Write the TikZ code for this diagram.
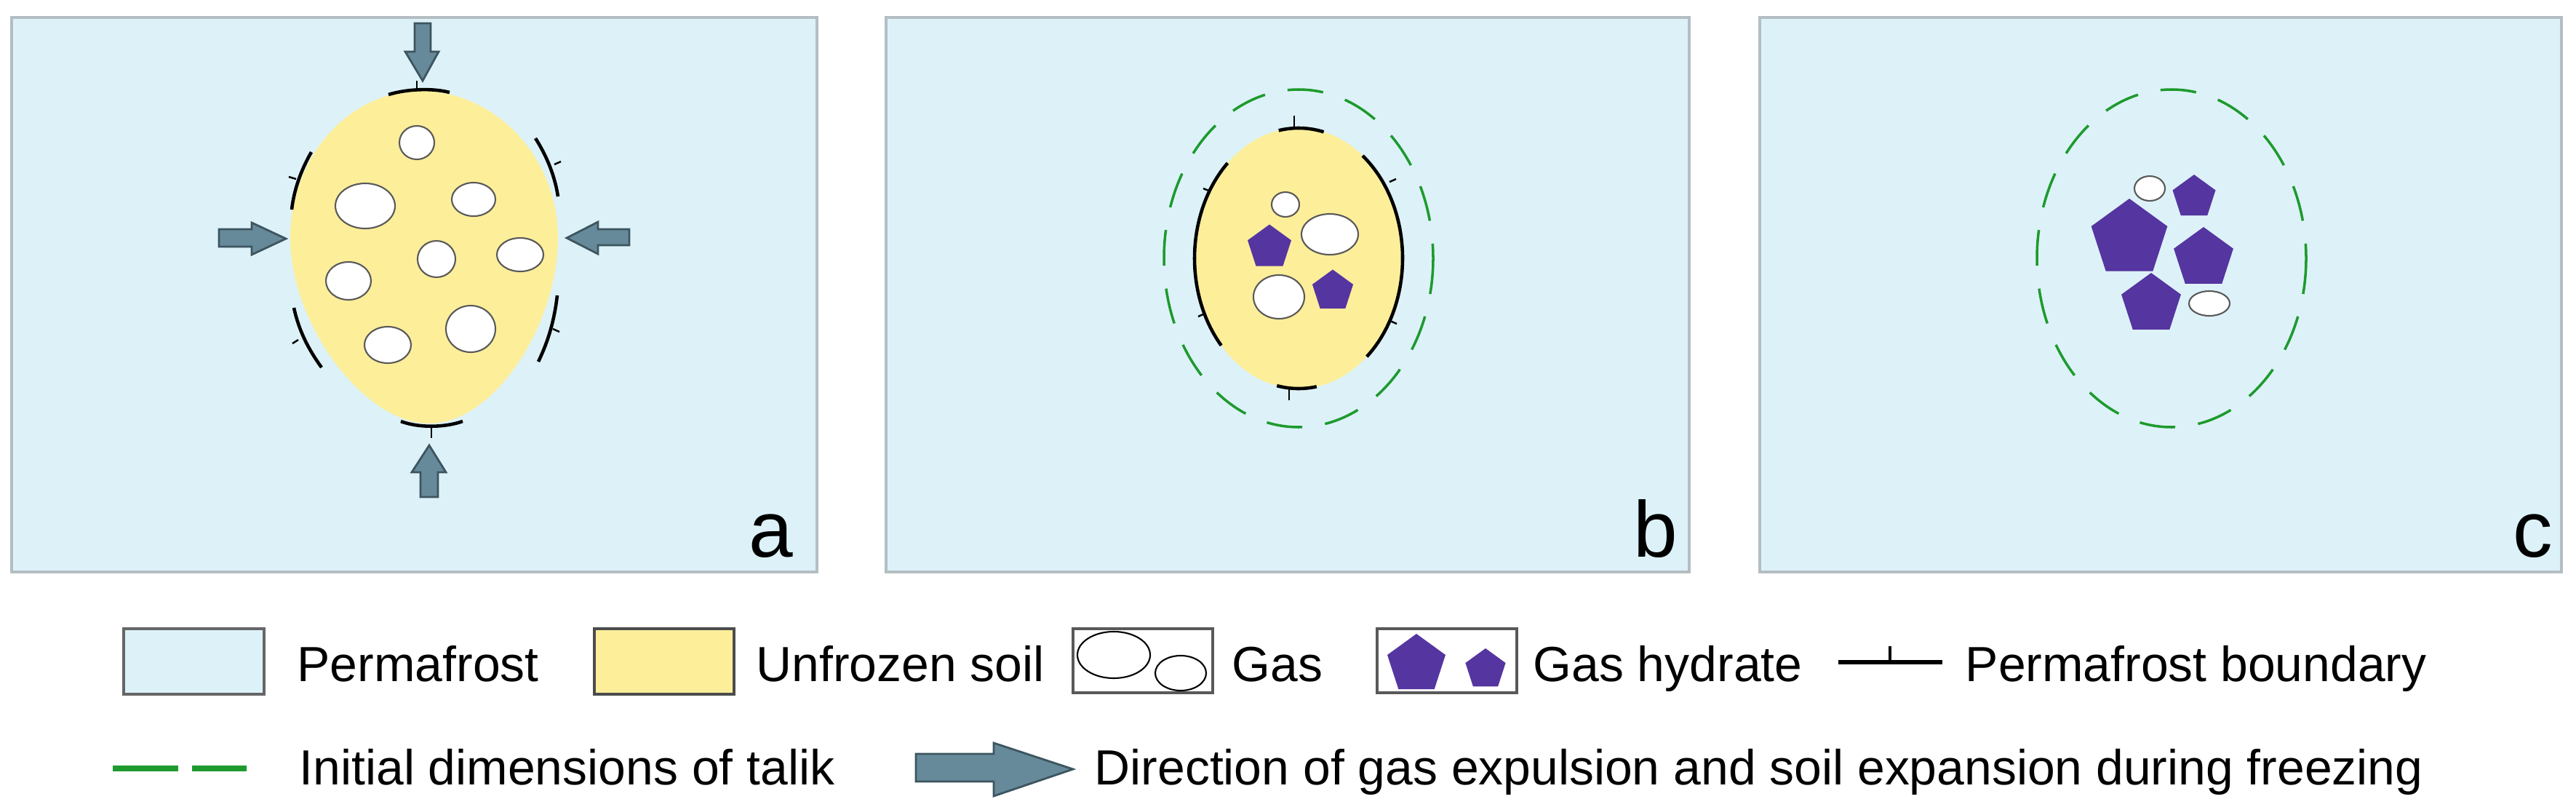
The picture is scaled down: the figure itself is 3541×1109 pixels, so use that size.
\documentclass[tikz,border=0pt]{standalone}
\usepackage{fontspec}
\setmainfont{Liberation Sans}
\usetikzlibrary{shapes.geometric}
\definecolor{perm}{HTML}{DDF2F8}
\definecolor{permb}{HTML}{B4BEC2}
\definecolor{soil}{HTML}{FDEE9A}
\definecolor{arr}{HTML}{668A99}
\definecolor{arrb}{HTML}{3D5560}
\definecolor{hyd}{HTML}{5535A0}
\definecolor{grn}{HTML}{1E9A2E}
\begin{document}
\begin{tikzpicture}[x=0.01cm,y=-0.01cm,
  panel/.style={fill=perm,draw=permb,line width=1.2pt},
  gas/.style={fill=white,draw=gray!70!black,line width=0.6pt},
  hydr/.style={regular polygon,regular polygon sides=5,fill=hyd,draw=none,inner sep=0,outer sep=0},
  bnd/.style={black,line width=1.3pt},
  tick/.style={black,line width=0.7pt},
  talik/.style={grn,line width=1pt,dash pattern=on 14pt off 9pt},
  garrow/.style={fill=arr,draw=arrb,line width=0.8pt},
  lab/.style={font=\fontsize{31}{31}\selectfont,anchor=base east,inner sep=0},
  leg/.style={font=\fontsize{19.3}{20}\selectfont,anchor=base west,inner sep=0}]
\useasboundingbox[fill=white] (0,0) rectangle (3541,1109);
% panels
\draw[panel] (16,24) rectangle (1123,786);
\draw[panel] (1218,24) rectangle (2322,786);
\draw[panel] (2419,24) rectangle (3521,786);
\node[lab] (la) at (1091,765) {a};
\node[lab] (lb) at (2307,765) {b};
\node[lab] (lc) at (3510,765) {c};
% ---- panel a
\fill[soil] (399,327) .. controls (399,215) and (480,125) .. (578,125)
  .. controls (680,125) and (767,215) .. (767,327)
  .. controls (767,445) and (680,582) .. (590,582)
  .. controls (500,582) and (399,445) .. (399,327) -- cycle;
\foreach \x/\y/\rx/\ry in {573/196/24/23,502/283/41/31,651/274/30/23,600/356/26/25,715/350/32/23,479/386/31/26,647/452/34/32,533/474/32/25}
  \draw[gas] (\x,\y) ellipse [x radius=\rx,y radius=\ry];
\draw[bnd] (534,130) .. controls (560,122) and (595,121) .. (618,127);
\draw[tick] (573,123) -- (573,111);
\draw[bnd] (551,579) .. controls (575,588) and (610,588) .. (636,579);
\draw[tick] (593,586) -- (593,602);
\draw[bnd] (428,209) .. controls (413,235) and (404,262) .. (401,288);
\draw[tick] (407,246) -- (397,243);
\draw[bnd] (404,423) .. controls (411,455) and (424,480) .. (442,505);
\draw[tick] (410,467) -- (402,472);
\draw[bnd] (736,190) .. controls (752,215) and (763,243) .. (767,270);
\draw[tick] (762,226) -- (771,222);
\draw[bnd] (766,406) .. controls (762,440) and (754,468) .. (740,497);
\draw[tick] (760,452) -- (769,456);
\draw[garrow] (570,32) -- (592,32) -- (592,71) -- (603,71) -- (581,111) -- (557,71) -- (570,71) -- cycle;
\draw[garrow] (578,683) -- (602,683) -- (602,649) -- (613,649) -- (590,612) -- (566,649) -- (578,649) -- cycle;
\draw[garrow] (301,315) -- (346,315) -- (346,306) -- (393,328) -- (346,350) -- (346,339) -- (301,339) -- cycle;
\draw[garrow] (865,315) -- (822,315) -- (822,305) -- (779,327) -- (822,349) -- (822,337) -- (865,337) -- cycle;
% ---- panel b
\draw[talik] (1785,355) ellipse [x radius=185,y radius=232];
\fill[soil] (1785,355) ellipse [x radius=143,y radius=179];
\draw[bnd] (1785,355) ++(133:143 and -179) arc [start angle=133,end angle=222,x radius=143,y radius=-179];
\draw[bnd] (1785,355) ++(-49:143 and -179) arc [start angle=-49,end angle=52,x radius=143,y radius=-179];
\draw[bnd] (1785,355) ++(76:143 and -179) arc [start angle=76,end angle=101,x radius=143,y radius=-179];
\draw[bnd] (1785,355) ++(-102:143 and -179) arc [start angle=-102,end angle=-80,x radius=143,y radius=-179];
\draw[tick] (1779,176) -- (1779,159);
\draw[tick] (1772,534) -- (1772,550);
\draw[tick] (1664,263) -- (1654,259);
\draw[tick] (1656,431) -- (1647,435);
\draw[tick] (1910,250) -- (1919,246);
\draw[tick] (1911,441) -- (1920,445);
\draw[gas] (1767,281) ellipse [x radius=19,y radius=17];
\draw[gas] (1828,322) ellipse [x radius=39,y radius=28];
\draw[gas] (1758,408) ellipse [x radius=35,y radius=30];
\node[hydr,minimum size=0.63cm] (hb1) at (1745,340) {};
\node[hydr,minimum size=0.59cm] (hb2) at (1832,400) {};
% ---- panel c
\draw[talik] (2985,355) ellipse [x radius=185,y radius=232];
\node[hydr,minimum size=1.1cm] (hc1) at (2927,328) {};
\node[hydr,minimum size=0.62cm] (hc2) at (3016,271) {};
\node[hydr,minimum size=0.86cm] (hc3) at (3029,355) {};
\node[hydr,minimum size=0.86cm] (hc4) at (2957,418) {};
\draw[gas] (2955,259) ellipse [x radius=21,y radius=17];
\draw[gas] (3037,417) ellipse [x radius=28,y radius=17];
% ---- legend row 1
\draw[fill=perm,draw=gray!80!black,line width=1.2pt] (170,864) rectangle (363,954);
\node[leg] (t1) at (408,936) {Permafrost};
\draw[fill=soil,draw=gray!60!black,line width=1.2pt] (817,864) rectangle (1009,954);
\node[leg] (t2) at (1039,936) {Unfrozen soil};
\draw[fill=white,draw=gray!70!black,line width=1.2pt] (1475,864) rectangle (1667,952);
\draw[gas,draw=black] (1531,900) ellipse [x radius=50,y radius=32];
\draw[gas,draw=black] (1623,925) ellipse [x radius=35,y radius=24];
\node[leg] (t3) at (1693,936) {Gas};
\draw[fill=white,draw=gray!70!black,line width=1.2pt] (1893,864) rectangle (2085,952);
\node[hydr,minimum size=0.84cm] (lh1) at (1947,913) {};
\node[hydr,minimum size=0.58cm] (lh2) at (2042,920) {};
\node[leg] (t4) at (2107,936) {Gas hydrate};
\coordinate (bl) at (2527,910);
\coordinate (br) at (2670,910);
\draw[bnd,line width=1.8pt] (bl) -- (br);
\draw[tick,line width=1pt] (2598,910) -- (2598,888);
\node[leg] (t5) at (2701,936) {Permafrost boundary};
% ---- legend row 2
\draw[grn,line width=2pt] (155,1056) -- (245,1056) (264,1056) -- (339,1056);
\node[leg] (t6) at (411,1078) {Initial dimensions of talik};
\draw[garrow] (1259,1036) -- (1366,1036) -- (1366,1021) -- (1475,1057) -- (1366,1094) -- (1366,1074) -- (1259,1074) -- cycle;
\node[leg] (t7) at (1504,1078) {Direction of gas expulsion and soil expansion during freezing};
\end{tikzpicture}
\end{document}
